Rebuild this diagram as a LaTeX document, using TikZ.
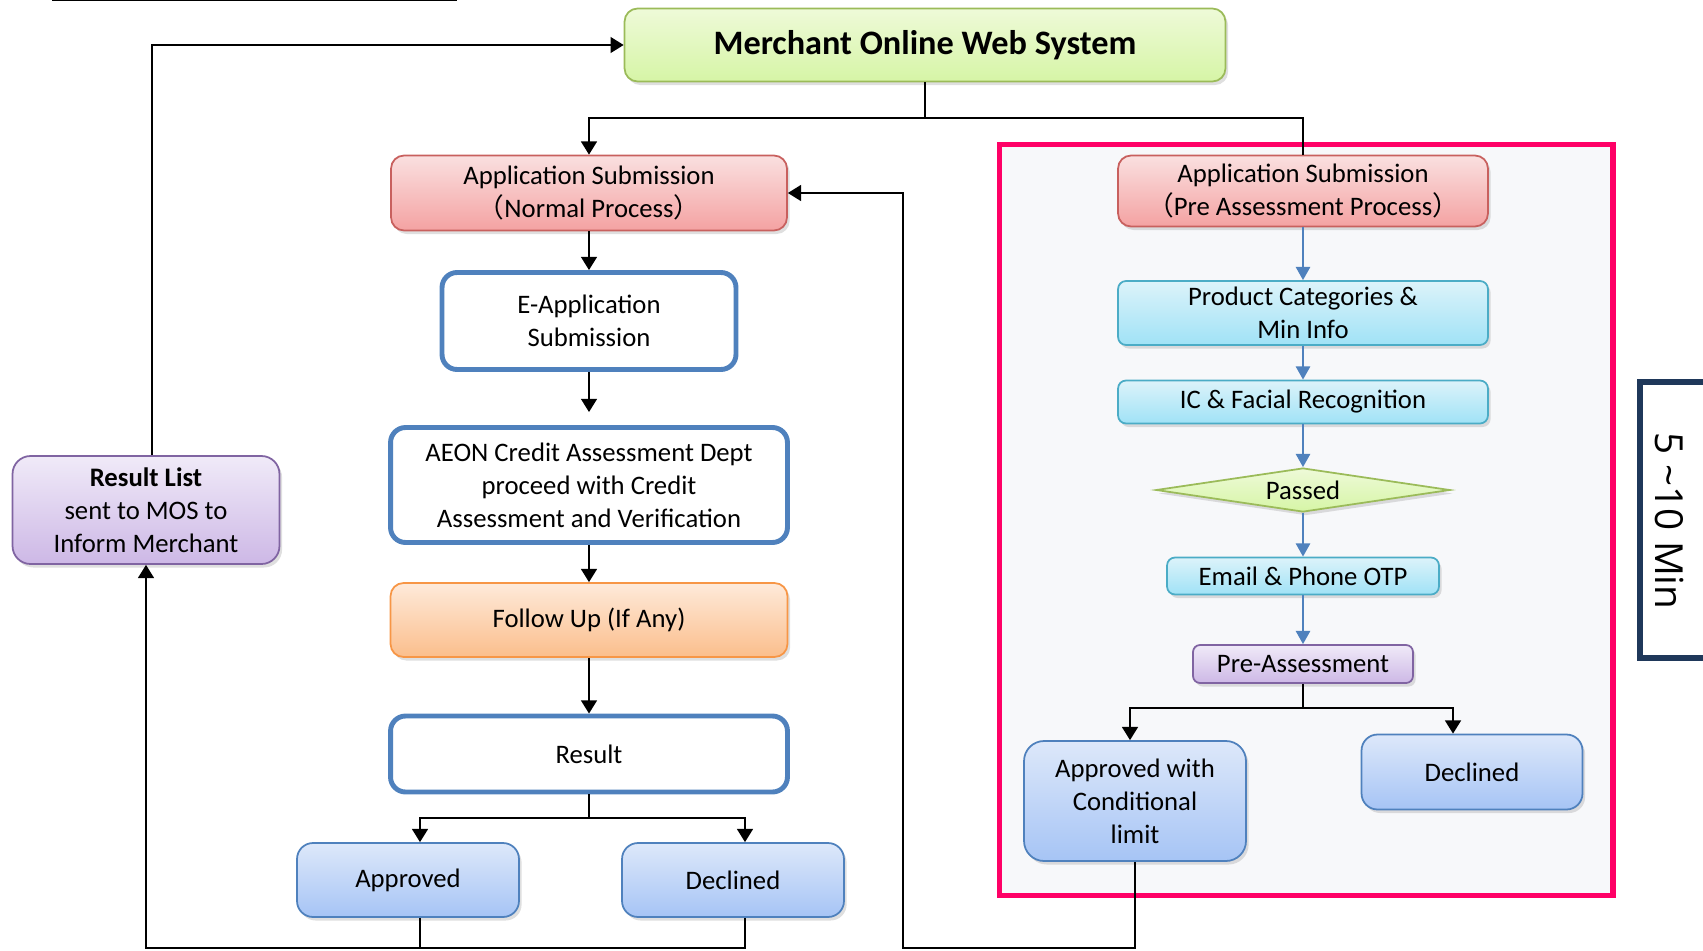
\documentclass[tikz,border=0pt]{standalone}
\usepackage{fontspec}
\setmainfont{Carlito}
\newfontfamily\cjk{Noto Sans CJK SC}
\newfontfamily\timefont{Open Sans}
\usetikzlibrary{arrows.meta,shapes.geometric,shadows}

\definecolor{mosgreen}{RGB}{155,187,89}
\definecolor{mosred}{RGB}{200,96,94}
\definecolor{mosblue}{RGB}{79,129,189}
\definecolor{mosorange}{RGB}{247,150,70}
\definecolor{mospurple}{RGB}{128,100,162}
\definecolor{moscyan}{RGB}{75,172,198}
\definecolor{mospink}{RGB}{255,0,102}
\definecolor{mosnavy}{RGB}{31,56,90}
\definecolor{greentop}{RGB}{238,250,216}
\definecolor{greenbot}{RGB}{214,245,166}
\definecolor{redtop}{RGB}{250,224,224}
\definecolor{redbot}{RGB}{244,162,162}
\definecolor{orangetop}{RGB}{254,234,218}
\definecolor{orangebot}{RGB}{251,190,140}
\definecolor{bluetop}{RGB}{221,232,250}
\definecolor{bluebot}{RGB}{166,196,245}
\definecolor{purpletop}{RGB}{240,234,248}
\definecolor{purplebot}{RGB}{205,184,230}
\definecolor{cyantop}{RGB}{220,243,250}
\definecolor{cyanbot}{RGB}{160,226,246}
\definecolor{panelfill}{RGB}{247,248,250}

\begin{document}
\begin{tikzpicture}[x=0.02cm, y=-0.02cm,
  every node/.style={font=\fontsize{15.2}{18.8}\selectfont, align=center, inner sep=0pt},
  every path/.style={line width=1.1pt},
  box/.style={draw, rounded corners=0.26cm, line width=1pt, drop shadow={opacity=0.25, shadow xshift=1.5pt, shadow yshift=-2pt}},
  greenbox/.style={box, draw=mosgreen, top color=greentop, bottom color=greenbot},
  redbox/.style={box, draw=mosred, top color=redtop, bottom color=redbot},
  orangebox/.style={box, draw=mosorange, top color=orangetop, bottom color=orangebot},
  bluebox/.style={box, draw=mosblue, top color=bluetop, bottom color=bluebot, rounded corners=0.32cm},
  purplebox/.style={box, draw=mospurple, top color=purpletop, bottom color=purplebot},
  cyanbox/.style={box, draw=moscyan, top color=cyantop, bottom color=cyanbot, rounded corners=0.16cm},
  whitebox/.style={draw=mosblue, fill=white, rounded corners=0.3cm, line width=2.8pt},
  passedbox/.style={diamond, shape aspect=6.7, draw=mosgreen, line width=1pt, top color=greentop, bottom color=greenbot, drop shadow={opacity=0.25, shadow xshift=1.5pt, shadow yshift=-2pt}},
  panel/.style={draw=mospink, fill=panelfill, line width=2.9pt},
  arr/.style={-{Triangle[width=9pt,length=7.5pt]}},
  bluearr/.style={-{Triangle[width=8pt,length=7.5pt]}, draw=mosblue, line width=1.4pt}]

\useasboundingbox (0,0) rectangle (1703,950);

\draw[line width=1.4pt] (52,0) -- (457,0);

% pre assessment panel
\node[panel, minimum width=12.28cm, minimum height=15.04cm] (prepanel) at (1306,520) {};

\node[greenbox, minimum width=12.02cm, minimum height=1.46cm, font=\fontsize{19.5}{23}\selectfont\bfseries] (merchant) at (925,45) {Merchant Online Web System};

% normal process
\node[redbox, minimum width=7.92cm, minimum height=1.5cm] (appnormal) at (589,193) {Application Submission\\{\cjk （}Normal Process{\cjk ）}};
\node[whitebox, minimum width=5.88cm, minimum height=1.94cm] (eapp) at (589,321) {E-Application\\Submission};
\node[whitebox, minimum width=7.94cm, minimum height=2.3cm] (aeon) at (589,485) {AEON Credit Assessment Dept\\proceed with Credit\\Assessment and Verification};
\node[orangebox, minimum width=7.94cm, minimum height=1.48cm] (followup) at (589,620) {Follow Up (If Any)};
\node[whitebox, minimum width=7.94cm, minimum height=1.52cm] (result) at (589,754) {Result};
\node[bluebox, minimum width=4.44cm, minimum height=1.48cm] (approved) at (408,880) {Approved};
\node[bluebox, minimum width=4.44cm, minimum height=1.48cm] (declined1) at (733,880) {Declined};
\node[purplebox, minimum width=5.34cm, minimum height=2.16cm, rounded corners=0.36cm] (resultlist) at (146,510) {\textbf{Result List}\\sent to MOS to\\Inform Merchant};

% pre assessment process
\node[redbox, minimum width=7.4cm, minimum height=1.42cm] (apppre) at (1303,191) {Application Submission\\{\cjk （}Pre Assessment Process{\cjk ）}};
\node[cyanbox, minimum width=7.4cm, minimum height=1.28cm] (product) at (1303,313) {Product Categories \&\\Min Info};
\node[cyanbox, minimum width=7.4cm, minimum height=0.86cm] (facial) at (1303,402) {IC \& Facial Recognition};
\node[passedbox, minimum width=5.88cm, minimum height=0.88cm] (passed) at (1303,490) {Passed};
\node[cyanbox, minimum width=5.44cm, minimum height=0.74cm] (otp) at (1303,576) {Email \& Phone OTP};
\node[purplebox, minimum width=4.4cm, minimum height=0.76cm, rounded corners=0.14cm] (preassess) at (1303,664) {Pre-Assessment};
\node[bluebox, minimum width=4.44cm, minimum height=2.4cm, rounded corners=0.4cm] (conditional) at (1135,801) {Approved with\\Conditional\\limit};
\node[bluebox, minimum width=4.42cm, minimum height=1.5cm] (declined2) at (1472,772) {Declined};

\node[draw=mosnavy, line width=3.4pt, minimum width=1.7cm, minimum height=5.52cm] (timebox) at (1682,520) {};
\node[rotate=-90, font=\timefont\fontsize{22}{26}\selectfont] (timetext) at (1669,521) {5 \textasciitilde10 Min};

\coordinate (loopA) at (146,948);
\coordinate (loopB) at (903,948);

\draw[arr] (merchant.south) -- ++(0,36) -| (appnormal.north);
\draw (merchant.south) -- ++(0,36) -| (apppre.north);

\draw[arr] (appnormal) -- (eapp);
\draw[arr, shorten >=0.26cm] (eapp) -- (aeon);
\draw[arr] (aeon) -- (followup);
\draw[arr] (followup) -- (result);
\draw[arr] (result.south) -- ++(0,24) -| ([xshift=0.24cm]approved.north);
\draw[arr] (result.south) -- ++(0,24) -| ([xshift=0.24cm]declined1.north);

\draw ([xshift=0.24cm]approved.south) |- (loopA);
\draw[arr] ([xshift=0.24cm]declined1.south) |- (loopA) -- (resultlist.south);
\draw[arr] ([xshift=0.12cm]resultlist.north) |- (merchant.west);

\draw[bluearr] (apppre) -- (product);
\draw[bluearr] (product) -- (facial);
\draw[bluearr] (facial) -- (passed);
\draw[bluearr] (passed) -- (otp);
\draw[bluearr] (otp) -- (preassess);

\draw[arr] (preassess.south) -- ++(0,24) -| ([xshift=-0.1cm]conditional.north);
\draw[arr] (preassess.south) -- ++(0,24) -| ([xshift=-0.38cm]declined2.north);
\draw[arr] (conditional.south) |- (loopB) |- (appnormal.east);

\end{tikzpicture}
\end{document}
